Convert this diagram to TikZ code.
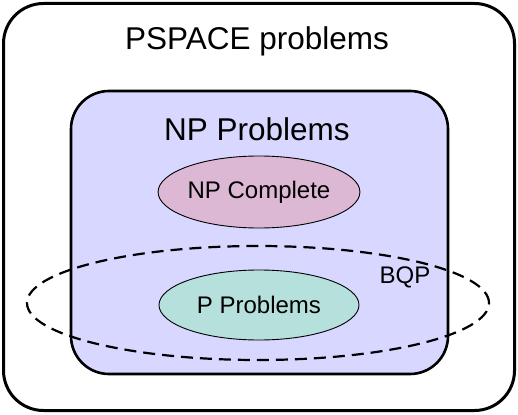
\documentclass[tikz,border=0pt]{standalone}
\usepackage{fontspec}
\setmainfont{Liberation Sans}
\usetikzlibrary{shapes.geometric, positioning}
\definecolor{NPBlue}{RGB}{215, 215, 255}
\definecolor{NPCPink}{RGB}{221, 184, 212}
\definecolor{PTeal}{RGB}{181, 224, 219}

\begin{document}
\begin{tikzpicture}[
            x=1pt, y=-1pt,
            classbox/.style={rectangle, rounded corners=38pt, draw=black, line width=2.6pt},
            classoval/.style={ellipse, draw=black, line width=0.9pt, minimum width=200pt,
                              minimum height=72pt, inner sep=0pt, font=\fontsize{24}{27}\selectfont},
            title/.style={font=\fontsize{31.5}{35}\selectfont, inner sep=0pt},
            bqpline/.style={line width=2.2pt, dash pattern=on 12pt off 7pt}
        ]
            \useasboundingbox (0,0) rectangle (518,414);
            % PSPACE and NP regions
            \draw[classbox, line width=3pt, rounded corners=40pt] (3.5,3.5) rectangle (514.5,410.5);
            \draw[classbox, fill=NPBlue] (71,91) rectangle (448,374);
            \node[title] (pspace) at (257,41) {PSPACE problems};
            \node[title] (np) at (257,129) {NP Problems};

            \node[classoval, fill=NPCPink] (npc) at (259,192) {NP Complete};
            \node[classoval, fill=PTeal, minimum height=70pt] (p) at (259,305) {P Problems};

            % BQP
            \node[ellipse, bqpline, draw=black, minimum width=462pt, minimum height=114pt] (bqp) at (258,303) {};
            \node[font=\fontsize{24}{27}\selectfont, inner sep=0pt] (bqplabel) at (405,277) {BQP};
        \end{tikzpicture}
\end{document}
